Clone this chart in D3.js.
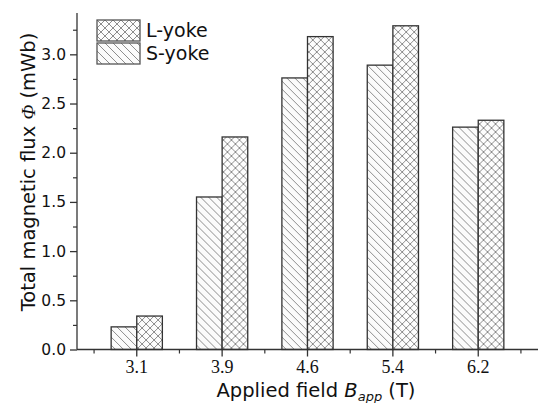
<!DOCTYPE html>
<html>
<head>
<meta charset="utf-8">
<script src="https://cdn.jsdelivr.net/npm/d3@7"></script>
<style>
  html, body { margin: 0; padding: 0; background: #fff; }
  svg { display: block; }
</style>
</head>
<body>
<svg id="chart" width="538" height="403"></svg>
<script>
// Applied field values (T) on the category axis
const categories = ["3.1", "3.9", "4.6", "5.4", "6.2"];
// Total magnetic flux (mWb) for each yoke type
const sYoke = [0.23, 1.55, 2.76, 2.89, 2.26];
const lYoke = [0.34, 2.16, 3.18, 3.29, 2.33];
// Series order within each group (left to right) and legend order
const seriesNames = ["S-yoke", "L-yoke"];
const legendNames = ["L-yoke", "S-yoke"];
const yTicks = [0.0, 0.5, 1.0, 1.5, 2.0, 2.5, 3.0];
const yMinorTicks = [0.25, 0.75, 1.25, 1.75, 2.25, 2.75, 3.25];

const W = 538, H = 403;
const margin = { top: 13, right: 0, bottom: 53.5, left: 77 };
const svg = d3.select("#chart");

const sansFont = "'DejaVu Sans', 'Liberation Sans', Arial, sans-serif";
const serifFont = "'Liberation Serif', 'Times New Roman', serif";
const axisColor = "#333";

// Hatch fills
const defs = svg.append("defs");
const diag = defs.append("pattern")
  .attr("id", "hatch-diag").attr("patternUnits", "userSpaceOnUse")
  .attr("width", 8).attr("height", 8);
diag.append("rect").attr("width", 8).attr("height", 8).attr("fill", "#fbfbfb");
diag.append("path")
  .attr("d", "M-1,-1 L9,9 M-1,7 L1,9 M7,-1 L9,1")
  .attr("stroke", "#808080").attr("stroke-width", 0.9).attr("fill", "none");

const cross = defs.append("pattern")
  .attr("id", "hatch-cross").attr("patternUnits", "userSpaceOnUse")
  .attr("width", 8).attr("height", 8);
cross.append("rect").attr("width", 8).attr("height", 8).attr("fill", "#fdfdfd");
cross.append("path")
  .attr("d", "M-1,-1 L9,9 M-1,7 L1,9 M7,-1 L9,1 M-1,9 L9,-1 M-1,1 L1,-1 M7,9 L9,7")
  .attr("stroke", "#808080").attr("stroke-width", 0.9).attr("fill", "none");

const fills = { "S-yoke": "url(#hatch-diag)", "L-yoke": "url(#hatch-cross)" };
const values = { "S-yoke": sYoke, "L-yoke": lYoke };

// Scales
const x = d3.scaleBand()
  .domain(categories)
  .range([margin.left, W - margin.right])
  .paddingInner(0)
  .paddingOuter(0.2);
const step = x.step();
const xSub = d3.scaleBand()
  .domain(seriesNames)
  .range([0.2 * step, 0.8 * step])
  .padding(0);
const y = d3.scaleLinear()
  .domain([0, 3.42])
  .range([H - margin.bottom, margin.top]);

// Bars
const rows = categories.map((c, i) => ({ cat: c, i }));
const groups = svg.append("g").selectAll("g")
  .data(rows).join("g")
  .attr("transform", d => `translate(${x(d.cat)},0)`);
groups.selectAll("rect")
  .data(d => seriesNames.map(s => ({ s, v: values[s][d.i] })))
  .join("rect")
  .attr("x", d => xSub(d.s))
  .attr("width", xSub.bandwidth())
  .attr("y", d => y(d.v))
  .attr("height", d => y(0) - y(d.v))
  .attr("fill", d => fills[d.s])
  .attr("stroke", axisColor)
  .attr("stroke-width", 1.3);

// Y axis
const yAxis = svg.append("g")
  .attr("transform", `translate(${margin.left},0)`)
  .call(d3.axisLeft(y).tickValues(yTicks).tickSize(7).tickPadding(4).tickFormat(d3.format(".1f")));
yAxis.select(".domain").attr("d", `M0,${y(0)}V${margin.top}`);
yAxis.selectAll(".domain, .tick line").attr("stroke", axisColor).attr("stroke-width", 1.3);
yAxis.selectAll("text")
  .attr("font-family", sansFont).attr("font-size", 15.5).attr("fill", "#111");
const yMinor = svg.append("g")
  .attr("transform", `translate(${margin.left},0)`)
  .call(d3.axisLeft(y).tickValues(yMinorTicks).tickSize(4).tickFormat(""));
yMinor.select(".domain").remove();
yMinor.selectAll(".tick line").attr("stroke", axisColor).attr("stroke-width", 1.2);

// X axis
const xAxis = svg.append("g")
  .attr("transform", `translate(0,${y(0)})`)
  .call(d3.axisBottom(x).tickSize(7).tickPadding(4).tickSizeOuter(0));
xAxis.select(".domain").attr("d", `M${margin.left},0H${W}`);
xAxis.selectAll(".domain, .tick line").attr("stroke", axisColor).attr("stroke-width", 1.3);
xAxis.selectAll("text")
  .attr("font-family", serifFont).attr("font-size", 18).attr("fill", "#111");
// Minor ticks on the band boundaries
const boundaries = categories.map(c => x(c)).concat([x(categories[categories.length - 1]) + step]);
svg.append("g").selectAll("line")
  .data(boundaries).join("line")
  .attr("x1", d => d).attr("x2", d => d)
  .attr("y1", y(0)).attr("y2", y(0) + 4)
  .attr("stroke", axisColor).attr("stroke-width", 1.2);

// Axis titles
const xTitle = svg.append("text")
  .attr("x", 316).attr("y", 397)
  .attr("text-anchor", "middle")
  .attr("font-family", sansFont).attr("font-size", 19.5).attr("fill", "#111");
xTitle.append("tspan").text("Applied field ");
xTitle.append("tspan").attr("font-style", "italic").text("B");
xTitle.append("tspan").attr("font-style", "italic").attr("font-size", 13).attr("dy", 4).text("app");
xTitle.append("tspan").attr("dy", -4).text(" (T)");

const yTitle = svg.append("text")
  .attr("transform", "translate(35,172) rotate(-90)")
  .attr("text-anchor", "middle")
  .attr("font-family", sansFont).attr("font-size", 19.5).attr("fill", "#111");
yTitle.append("tspan").text("Total magnetic flux ");
yTitle.append("tspan").attr("font-family", serifFont).attr("font-style", "italic").text("Φ");
yTitle.append("tspan").text(" (mWb)");

// Legend
const legend = svg.append("g");
const legendItems = legend.selectAll("g")
  .data(legendNames).join("g")
  .attr("transform", (d, i) => `translate(97,${20 + i * 23})`);
legendItems.append("rect")
  .attr("width", 43).attr("height", 21)
  .attr("fill", d => fills[d])
  .attr("stroke", "#555").attr("stroke-width", 1.3);
legendItems.append("text")
  .attr("x", 49).attr("y", 17)
  .attr("font-family", sansFont).attr("font-size", 19).attr("fill", "#111")
  .text(d => d);
</script>
</body>
</html>
